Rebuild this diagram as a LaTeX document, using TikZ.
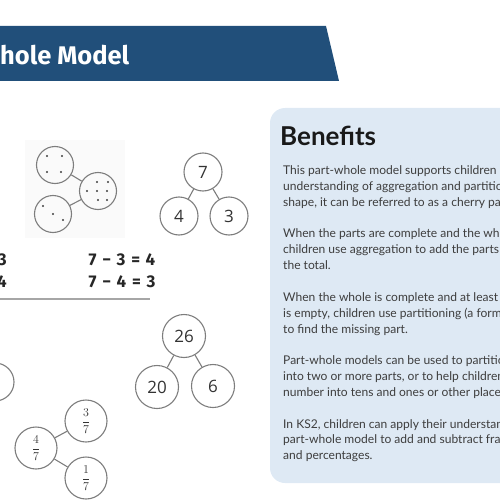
\documentclass[tikz,border=0pt]{standalone}
\usepackage{fontspec}
\setmainfont{Lato}
\newfontfamily\numfont{Open Sans}
\newfontfamily\eqfont{Fira Sans}
\newfontfamily\titlefont{Fira Sans}
\definecolor{banner}{RGB}{33,79,122}
\definecolor{boxblue}{RGB}{222,233,244}
\definecolor{ringgray}{RGB}{125,125,125}
\definecolor{textgray}{RGB}{62,62,62}
\begin{document}
\begin{tikzpicture}[x=1pt,y=-1pt,
  ring/.style={circle,draw=ringgray,line width=1.1pt,minimum size=38pt,inner sep=0pt,
    font=\numfont\fontsize{17}{17}\selectfont,text=black!80},
  bigring/.style={ring,minimum size=43pt},
  fracring/.style={ring,minimum size=42pt,font=\fontsize{12}{12}\selectfont},
  dotring/.style={ring,minimum size=37pt},
  link/.style={draw=ringgray,line width=1.1pt},
  eqtext/.style={font=\eqfont\bfseries\fontsize{17}{17}\selectfont,text=black!85,inner sep=0pt},
  bodyline/.style={anchor=base west,inner sep=0pt,font=\fontsize{12.05}{15}\selectfont,text=textgray},
  tinydot/.style={fill=textgray}]
\useasboundingbox (0,0) rectangle (500,500);
\clip (0,0) rectangle (500,500);
% banner
\fill[banner] (-5,26) -- (326,26) -- (339,81) -- (-5,81) -- cycle;
\node[anchor=base west,inner sep=0pt,text=white,font=\titlefont\bfseries\fontsize{25.5}{25.5}\selectfont] (title) at (0,65) {hole Model};
% dots model
\fill[black!2] (25,140) rectangle (125,238);
\node[dotring] (da) at (55,165) {};
\node[dotring] (db) at (98,191) {};
\node[dotring] (dc) at (53,214) {};
\draw[link] (da) -- (db);
\draw[link] (dc) -- (db);
\foreach \p in {(47,156),(62,156),(47,172),(61,172),(97,182),(108,182),(87,191),(97,191),(107,191),(98,200),(107,200),(43,206),(53,214),(63,220)}
  \fill[tinydot] \p circle (1.2);
% cherry 7
\node[ring] (s7) at (203,172) {7};
\node[ring] (s4) at (179,216) {4};
\node[ring] (s3) at (229,216) {3};
\draw[link] (s7) -- (s4);
\draw[link] (s7) -- (s3);
% equations
\node[eqtext] (eq1) at (122,260) {7\,\,−\,\,3\,\,=\,\,4};
\node[eqtext] (eq2) at (122,282) {7\,\,−\,\,4\,\,=\,\,3};
\node[eqtext,anchor=east] (eq3) at (7,260) {3};
\node[eqtext,anchor=east] (eq4) at (7,282) {4};
\draw[black!35,line width=1.5pt] (0,299) -- (150,299);
% cherry 26
\node[bigring] (t26) at (184,336) {26};
\node[bigring] (t20) at (157,387) {20};
\node[bigring] (t6) at (213,386) {6};
\draw[link] (t26) -- (t20);
\draw[link] (t26) -- (t6);
% partial circle at left edge
\node[ring] (pc) at (-5,382) {};
% fractions
\node[fracring] (f4) at (36,448) {$\displaystyle\frac{4}{7}$};
\node[fracring] (f3) at (86,421) {$\displaystyle\frac{3}{7}$};
\node[fracring] (f1) at (86,478) {$\displaystyle\frac{1}{7}$};
\draw[link] (f4) -- (f3);
\draw[link] (f4) -- (f1);
% benefits box
\fill[boxblue,rounded corners=15pt] (270,108) rectangle (540,483);
\node[anchor=base west,inner sep=0pt,font=\bfseries\fontsize{26}{26}\selectfont,text=black!90] (hd) at (280,145) {Benefits};
\node[bodyline] (b0) at (283,174.5) {This part-whole model supports children i};
\node[bodyline] (b1) at (283,190.35) {understanding of aggregation and partition};
\node[bodyline] (b2) at (283,206.2) {shape, it can be referred to as a cherry par};
\node[bodyline] (b4) at (283,237.9) {When the parts are complete and the who};
\node[bodyline] (b5) at (283,253.75) {children use aggregation to add the parts};
\node[bodyline] (b6) at (283,269.6) {the total.};
\node[bodyline] (b8) at (283,301.3) {When the whole is complete and at least o};
\node[bodyline] (b9) at (283,317.15) {is empty, children use partitioning (a form};
\node[bodyline] (b10) at (283,333) {to find the missing part.};
\node[bodyline] (b12) at (283,364.7) {Part-whole models can be used to partitio};
\node[bodyline] (b13) at (283,380.55) {into two or more parts, or to help children};
\node[bodyline] (b14) at (283,396.4) {number into tens and ones or other place};
\node[bodyline] (b16) at (283,428.1) {In KS2, children can apply their understan};
\node[bodyline] (b17) at (283,443.95) {part-whole model to add and subtract frac};
\node[bodyline] (b18) at (283,459.8) {and percentages.};
\end{tikzpicture}
\end{document}
